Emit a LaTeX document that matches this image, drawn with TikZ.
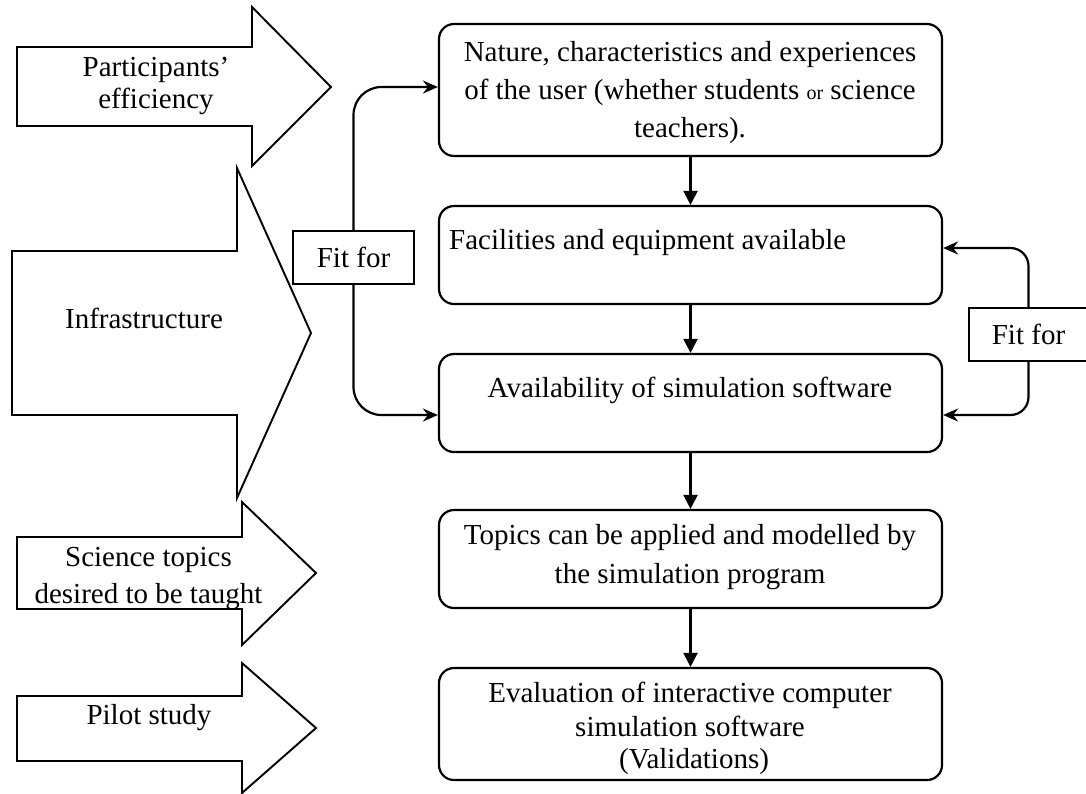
\documentclass[tikz,border=0pt]{standalone}
\usepackage{fontspec}
\setmainfont{Liberation Serif}
\usetikzlibrary{arrows.meta}
\newcommand{\bigfs}{\fontsize{29}{38}\selectfont}
\begin{document}
\begin{tikzpicture}[x=1pt,y=-1pt,
  every node/.style={font=\bigfs,inner sep=0pt},
  blockarrow/.style={draw=black,line width=1.9pt,line join=miter,fill=white},
  flowbox/.style={draw=black,line width=2.2pt,rounded corners=15pt,minimum width=503pt,inner sep=0pt},
  fitbox/.style={draw=black,line width=1.9pt,fill=white,inner sep=0pt},
  txt/.style={anchor=base,align=center},
  down/.style={line width=2.2pt,-{Triangle[length=14pt,width=14pt]}},
  curv/.style={line width=2.2pt,-{Stealth[length=15pt,width=13pt,inset=5pt]}}
]
\useasboundingbox (0,0) rectangle (1086,793);
\clip (0,0) rectangle (1086,793);
\fill[white] (0,0) rectangle (1086,793);

% block arrows on the left
\draw[blockarrow] (17,47) -- (252,47) -- (252,7) -- (331,87) -- (252,166) -- (252,126) -- (17,126) -- cycle;
\draw[blockarrow] (12,251) -- (237,251) -- (237,168) -- (311,333) -- (237,498) -- (237,415) -- (12,415) -- cycle;
\draw[blockarrow] (17,537) -- (242,537) -- (242,502) -- (316,573) -- (242,645) -- (242,609) -- (17,609) -- cycle;
\draw[blockarrow] (17,696) -- (242,696) -- (242,663) -- (316,728) -- (242,793) -- (242,761) -- (17,761) -- cycle;

\node[txt] (a1a) at (156,76) {Participants’};
\node[txt] (a1b) at (156,108) {efficiency};
\node[txt] (a2) at (144,328) {Infrastructure};
\node[txt] (a3a) at (148.5,566) {Science topics};
\node[txt] (a3b) at (148.5,603) {desired to be taught};
\node[txt] (a4) at (149,724) {Pilot study};

% flow boxes
\node[flowbox,minimum height=132pt] (b1) at (690.5,90) {};
\node[flowbox,minimum height=98pt] (b2) at (690.5,255) {};
\node[flowbox,minimum height=98pt] (b3) at (690.5,403) {};
\node[flowbox,minimum height=98pt] (b4) at (690.5,559) {};
\node[flowbox,minimum height=112pt] (b5) at (690.5,724) {};

\node[txt] (t1a) at (690,61) {Nature, characteristics and experiences};
\node[txt] (t1b) at (690,99) {of the user (whether students {\fontsize{20}{24}\selectfont or} science};
\node[txt] (t1c) at (690,137) {teachers).};
\node[anchor=base west] (t2) at (449,249) {Facilities and equipment available};
\node[txt] (t3) at (690,397) {Availability of simulation software};
\node[txt] (t4a) at (690,544) {Topics can be applied and modelled by};
\node[txt] (t4b) at (690,583) {the simulation program};
\node[txt] (t5a) at (690,702) {Evaluation of interactive computer};
\node[txt] (t5b) at (690,736) {simulation software};
\node[txt] (t5c) at (694,768) {(Validations)};

% vertical arrows
\draw[down] (b1.south) -- (b2.north);
\draw[down] (b2.south) -- (b3.north);
\draw[down] (b3.south) -- (b4.north);
\draw[down] (b4.south) -- (b5.north);

% fit-for boxes
\node[fitbox,minimum width=121pt,minimum height=53pt] (fitL) at (353.5,257.5) {};
\node[anchor=base] (fitLt) at (353.5,267) {Fit for};
\node[fitbox,minimum width=119pt,minimum height=53pt] (fitR) at (1028.5,334.5) {};
\node[anchor=base] (fitRt) at (1028.5,344) {Fit for};

% curved connectors
\draw[curv,rounded corners=28pt] (fitL.north) |- ([yshift=3pt]b1.west);
\draw[curv,rounded corners=28pt] (fitL.south) |- ([yshift=-12pt]b3.west);
\draw[curv,rounded corners=18pt] (fitR.north) |- ([yshift=7pt]b2.east);
\draw[curv,rounded corners=18pt] (fitR.south) |- ([yshift=-12pt]b3.east);
\end{tikzpicture}
\end{document}
